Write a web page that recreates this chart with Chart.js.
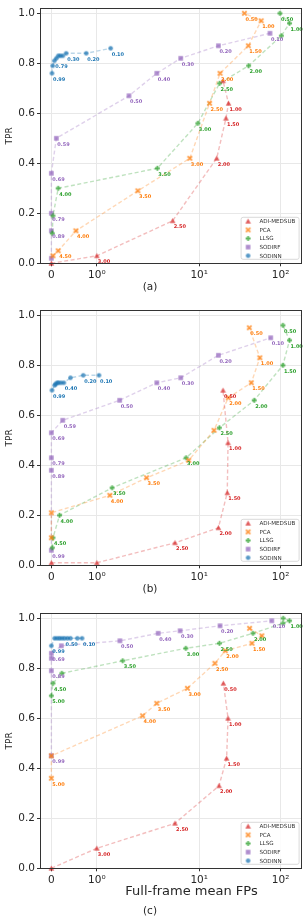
<!DOCTYPE html>
<html>
<head>
<meta charset="utf-8">
<script src="https://cdn.jsdelivr.net/npm/chart.js@4/dist/chart.umd.min.js"></script>
<style>
  body { margin: 0; width: 306px; height: 918px; background: #fff; position: relative; overflow: hidden; }
  canvas { position: absolute; left: 0; }
</style>
</head>
<body>
<canvas id="pa" width="306" height="302" style="top:0px"></canvas>
<canvas id="pb" width="306" height="302" style="top:302px"></canvas>
<canvas id="pc" width="306" height="313" style="top:605px"></canvas>
<script>
// ===== data =====
const SERIES = ['ADI-MEDSUB', 'PCA', 'LLSG', 'SODIRF', 'SODINN'];
const COLORS = ['#d62728', '#ff7f0e', '#2ca02c', '#9467bd', '#1f77b4'];
const X_TICKS = [0, 1, 10, 100];
const X_TICK_LABELS = ['0', '10⁰', '10¹', '10²'];
const Y_TICKS = [0, 0.2, 0.4, 0.6, 0.8, 1.0];

// panel (a)
const A_ADI_X = [0, 1.0, 5.5, 16.4, 21.3, 22.9, 19.6];
const A_ADI_Y = [0.0, 0.03, 0.17, 0.42, 0.58, 0.64, 0.73];
const A_ADI_L = ['', '3.00', '2.50', '2.00', '1.50', '1.00', ''];
const A_PCA_X = [0.035, 0.15, 0.54, 2.52, 8.1, 13.4, 18.0, 40.1, 57.7, 35.9];
const A_PCA_Y = [0.03, 0.05, 0.13, 0.29, 0.42, 0.64, 0.76, 0.87, 0.97, 1.0];
const A_PCA_L = ['', '4.50', '4.00', '3.50', '3.00', '2.50', '2.00', '1.50', '1.00', '0.50'];
const A_LLSG_X = [0.02, 0.035, 0.15, 3.9, 9.7, 17.8, 40.4, 102, 128.6, 98];
const A_LLSG_Y = [0.12, 0.19, 0.30, 0.38, 0.56, 0.72, 0.79, 0.91, 0.96, 1.0];
const A_LLSG_L = ['', '', '4.00', '3.50', '3.00', '2.50', '2.00', '', '1.00', '0.50'];
const A_RF_X = [0, 0, 0, 0, 0.11, 2.06, 3.85, 6.6, 17.2, 74];
const A_RF_Y = [0.02, 0.13, 0.20, 0.36, 0.50, 0.67, 0.76, 0.82, 0.87, 0.92];
const A_RF_L = ['', '0.89', '0.79', '0.69', '0.59', '0.50', '0.40', '0.30', '0.20', '0.10'];
const A_NN_X = [0.013, 0.028, 0.065, 0.109, 0.152, 0.196, 0.252, 0.326, 0.767, 1.365];
const A_NN_Y = [0.76, 0.79, 0.81, 0.82, 0.83, 0.83, 0.83, 0.84, 0.84, 0.86];
const A_NN_L = ['0.99', '', '0.79', '', '', '', '', '0.30', '0.20', '0.10'];

// panel (b)
const B_ADI_X = [0, 1.0, 5.8, 17.2, 22.1, 22.6, 19.6];
const B_ADI_Y = [0.01, 0.01, 0.09, 0.15, 0.29, 0.49, 0.70];
const B_ADI_L = ['', '', '2.50', '2.00', '1.50', '1.00', '0.50'];
const B_PCA_X = [0, 0, 1.34, 3.06, 7.9, 15.2, 22.7, 43.6, 55.6, 41.2];
const B_PCA_Y = [0.11, 0.21, 0.28, 0.35, 0.42, 0.54, 0.67, 0.73, 0.83, 0.95];
const B_PCA_L = ['', '', '4.00', '3.50', '', '', '2.00', '1.50', '1.00', '0.50'];
const B_LLSG_X = [0.022, 0.035, 0.18, 1.41, 7.44, 17.7, 47.4, 106.6, 128.6, 106.6];
const B_LLSG_Y = [0.07, 0.11, 0.20, 0.31, 0.43, 0.55, 0.66, 0.80, 0.90, 0.96];
const B_LLSG_L = ['', '4.50', '4.00', '3.50', '3.00', '2.50', '2.00', '1.50', '1.00', '0.50'];
const B_RF_X = [0, 0, 0, 0, 0.25, 1.67, 3.85, 6.6, 17.2, 75.6];
const B_RF_Y = [0.06, 0.38, 0.43, 0.53, 0.58, 0.66, 0.73, 0.75, 0.84, 0.91];
const B_RF_L = ['0.99', '0.89', '0.79', '0.69', '0.59', '0.50', '0.40', '0.30', '0.20', '0.10'];
const B_NN_X = [0.013, 0.072, 0.093, 0.126, 0.159, 0.213, 0.274, 0.42, 0.70, 1.05];
const B_NN_Y = [0.70, 0.72, 0.725, 0.73, 0.73, 0.73, 0.73, 0.75, 0.76, 0.76];
const B_NN_L = ['0.99', '', '', '', '', '', '0.40', '', '0.20', '0.10'];

// panel (c)
const C_ADI_X = [0, 1.0, 5.8, 17.5, 21.7, 22.6, 19.8];
const C_ADI_Y = [0.0, 0.08, 0.18, 0.33, 0.44, 0.60, 0.74];
const C_ADI_L = ['', '3.00', '2.50', '2.00', '1.50', '1.00', '0.50'];
const C_PCA_X = [0, 0, 2.8, 3.85, 7.67, 15.6, 20.9, 44.5, 58.8, 41.6];
const C_PCA_Y = [0.36, 0.45, 0.61, 0.66, 0.72, 0.82, 0.87, 0.90, 0.93, 0.96];
const C_PCA_L = ['5.00', '', '4.00', '3.50', '3.00', '2.50', '2.00', '1.50', '', ''];
const C_LLSG_X = [0, 0.035, 0.23, 1.79, 7.4, 17.7, 45.7, 106.6, 128.6, 107.5];
const C_LLSG_Y = [0.69, 0.74, 0.78, 0.83, 0.88, 0.90, 0.94, 0.98, 0.99, 1.0];
const C_LLSG_L = ['5.00', '4.50', '', '3.50', '3.00', '2.50', '2.00', '', '1.00', ''];
const C_RF_X = [0, 0, 0, 0, 0.22, 1.68, 3.97, 6.5, 18.0, 77.9];
const C_RF_Y = [0.45, 0.79, 0.84, 0.86, 0.89, 0.91, 0.94, 0.95, 0.97, 0.99];
const C_RF_L = ['0.99', '0.89', '', '0.69', '', '0.50', '0.40', '0.30', '0.20', '0.10'];
const C_NN_X = [0, 0.072, 0.126, 0.18, 0.235, 0.289, 0.354, 0.42, 0.572, 0.674];
const C_NN_Y = [0.89, 0.92, 0.92, 0.92, 0.92, 0.92, 0.92, 0.92, 0.92, 0.92];
const C_NN_L = ['0.99', '', '', '', '', '0.50', '', '', '', '0.10'];

// ===== symlog-like x scale (0..1 linear, then log decades) =====
const LIN = 0.444, D2 = 0.795;
function symT(v) {
  if (v <= 1) return v * LIN;
  if (v <= 10) return LIN + Math.log10(v);
  return LIN + 1 + Math.log10(v / 10) * D2;
}
function symInv(t) {
  if (t <= LIN) return t / LIN;
  if (t <= LIN + 1) return Math.pow(10, t - LIN);
  return 10 * Math.pow(10, (t - LIN - 1) / D2);
}
const LinearScale = Chart.LinearScale || Chart.registry.getScale('linear');
class SymLogScale extends LinearScale {
  buildTicks() { return X_TICKS.map(v => ({ value: v })); }
  getPixelForValue(v) {
    const a = symT(this.min), b = symT(this.max);
    return this.getPixelForDecimal((symT(v) - a) / (b - a));
  }
  getValueForPixel(p) {
    const a = symT(this.min), b = symT(this.max);
    return symInv(a + this.getDecimalForPixel(p) * (b - a));
  }
}
SymLogScale.id = 'symlogx';
SymLogScale.defaults = {};
Chart.register(SymLogScale);

// ===== markers =====
function marker(shape, color) {
  const c = document.createElement('canvas');
  c.width = 7; c.height = 7;
  const g = c.getContext('2d');
  g.globalAlpha = 0.75;
  g.fillStyle = color; g.strokeStyle = color;
  g.beginPath();
  if (shape === 'tri') {
    g.moveTo(3.5, 0.8); g.lineTo(6.3, 5.8); g.lineTo(0.7, 5.8); g.closePath(); g.fill();
  } else if (shape === 'x') {
    g.lineWidth = 1.9;
    g.moveTo(1.3, 1.3); g.lineTo(5.7, 5.7); g.moveTo(5.7, 1.3); g.lineTo(1.3, 5.7); g.stroke();
  } else if (shape === 'plus') {
    g.rect(1, 2.6, 5, 1.8); g.rect(2.6, 1, 1.8, 1.6); g.rect(2.6, 4.4, 1.8, 1.6); g.fill();
  } else if (shape === 'sq') {
    g.rect(1.2, 1.2, 4.6, 4.6); g.fill();
  } else {
    g.arc(3.5, 3.5, 2.3, 0, Math.PI * 2); g.fill();
  }
  return c;
}
const SHAPES = ['tri', 'x', 'plus', 'sq', 'circ'];
const MARKERS = SHAPES.map((s, i) => marker(s, COLORS[i]));

function rgba(hex, a) {
  const n = parseInt(hex.slice(1), 16);
  return 'rgba(' + (n >> 16) + ',' + ((n >> 8) & 255) + ',' + (n & 255) + ',' + a + ')';
}

function makeSet(i, xs, ys, tags) {
  return {
    label: SERIES[i],
    data: xs.map((x, k) => ({ x: x, y: ys[k] })),
    tags: tags,
    showLine: true,
    borderColor: rgba(COLORS[i], 0.3),
    borderWidth: 1.4,
    borderDash: [4, 2.5],
    pointStyle: MARKERS[i],
    pointRadius: 3,
    pointHoverRadius: 3,
    clip: false
  };
}

// ===== decorations: frame, point tags, legend, captions =====
const deco = {
  id: 'deco',
  afterDatasetsDraw(chart) {
    const ctx = chart.ctx, a = chart.chartArea;
    ctx.save();
    ctx.font = 'bold 5px "DejaVu Sans"';
    ctx.textBaseline = 'middle';
    ctx.textAlign = 'left';
    chart.data.datasets.forEach((ds, i) => {
      ctx.fillStyle = COLORS[i];
      chart.getDatasetMeta(i).data.forEach((pt, k) => {
        if (ds.tags[k]) ctx.fillText(ds.tags[k], pt.x + 1, pt.y + 6);
      });
    });
    // frame
    ctx.strokeStyle = '#333';
    ctx.lineWidth = 1;
    ctx.strokeRect(Math.round(a.left) + 0.5, Math.round(a.top) + 0.5, Math.round(a.width) - 1, Math.round(a.height));
    // legend
    const w = 58, h = 42;
    const lx = a.right - 2.5 - w, ly = a.bottom - 4 - h;
    ctx.beginPath();
    ctx.roundRect(lx, ly, w, h, 2);
    ctx.fillStyle = 'rgba(255,255,255,0.85)';
    ctx.fill();
    ctx.strokeStyle = '#d0d0d0';
    ctx.lineWidth = 0.8;
    ctx.stroke();
    ctx.font = '5.6px "DejaVu Sans"';
    ctx.fillStyle = '#333';
    SERIES.forEach((s, i) => {
      const yy = ly + 4 + i * 8.6;
      ctx.drawImage(MARKERS[i], lx + 7 - 3.5, yy - 3.5);
      ctx.fillText(s, lx + 18.3, yy + 0.5);
    });
    ctx.restore();
  },
  afterDraw(chart) {
    const ctx = chart.ctx;
    const cap = chart.options.plugins.deco.captions;
    ctx.save();
    ctx.fillStyle = '#262626';
    ctx.textAlign = 'center';
    ctx.textBaseline = 'middle';
    cap.forEach(c => {
      ctx.font = c.size + 'px "DejaVu Sans"';
      ctx.fillText(c.text, c.x, c.y);
    });
    // y title
    ctx.font = '9px "DejaVu Sans"';
    ctx.translate(9.5, (chart.chartArea.top + chart.chartArea.bottom) / 2);
    ctx.rotate(-Math.PI / 2);
    ctx.fillText('TPR', 0, 0);
    ctx.restore();
  }
};

function panel(id, sets, captions) {
  const cv = document.getElementById(id);
  const H = cv.height;
  new Chart(cv, {
    type: 'scatter',
    data: { datasets: sets },
    options: {
      responsive: false,
      animation: false,
      events: [],
      layout: { padding: { top: 5, right: 1, left: 0, bottom: 0 } },
      plugins: { legend: { display: false }, tooltip: { enabled: false }, deco: { captions: captions } },
      scales: {
        x: {
          type: 'symlogx',
          min: -0.25,
          max: 181,
          afterFit: s => { s.height = H - 263.3; },
          grid: { color: '#e8e8e8', lineWidth: 1, tickLength: 3, tickColor: '#333' },
          border: { display: false },
          ticks: {
            autoSkip: false, maxRotation: 0, padding: 3,
            color: '#262626', font: { family: 'DejaVu Sans', size: 10.5 },
            callback: v => X_TICK_LABELS[X_TICKS.indexOf(v)]
          }
        },
        y: {
          min: 0,
          max: 1.02,
          afterFit: s => { s.width = 40; },
          afterBuildTicks: s => { s.ticks = Y_TICKS.map(v => ({ value: v })); },
          grid: { color: '#e8e8e8', lineWidth: 1, tickLength: 3, tickColor: '#333' },
          border: { display: false },
          ticks: {
            padding: 2,
            color: '#262626', font: { family: 'DejaVu Sans', size: 10.5 },
            callback: v => v.toFixed(1)
          }
        }
      }
    },
    plugins: [deco]
  });
}

panel('pa', [
  makeSet(0, A_ADI_X, A_ADI_Y, A_ADI_L),
  makeSet(1, A_PCA_X, A_PCA_Y, A_PCA_L),
  makeSet(2, A_LLSG_X, A_LLSG_Y, A_LLSG_L),
  makeSet(3, A_RF_X, A_RF_Y, A_RF_L),
  makeSet(4, A_NN_X, A_NN_Y, A_NN_L)
], [{ text: '(a)', x: 150, y: 287, size: 10.5 }]);

panel('pb', [
  makeSet(0, B_ADI_X, B_ADI_Y, B_ADI_L),
  makeSet(1, B_PCA_X, B_PCA_Y, B_PCA_L),
  makeSet(2, B_LLSG_X, B_LLSG_Y, B_LLSG_L),
  makeSet(3, B_RF_X, B_RF_Y, B_RF_L),
  makeSet(4, B_NN_X, B_NN_Y, B_NN_L)
], [{ text: '(b)', x: 150, y: 287, size: 10.5 }]);

panel('pc', [
  makeSet(0, C_ADI_X, C_ADI_Y, C_ADI_L),
  makeSet(1, C_PCA_X, C_PCA_Y, C_PCA_L),
  makeSet(2, C_LLSG_X, C_LLSG_Y, C_LLSG_L),
  makeSet(3, C_RF_X, C_RF_Y, C_RF_L),
  makeSet(4, C_NN_X, C_NN_Y, C_NN_L)
], [{ text: 'Full-frame mean FPs', x: 191.5, y: 287, size: 13 }, { text: '(c)', x: 150, y: 306, size: 10.5 }]);
</script>
</body>
</html>
